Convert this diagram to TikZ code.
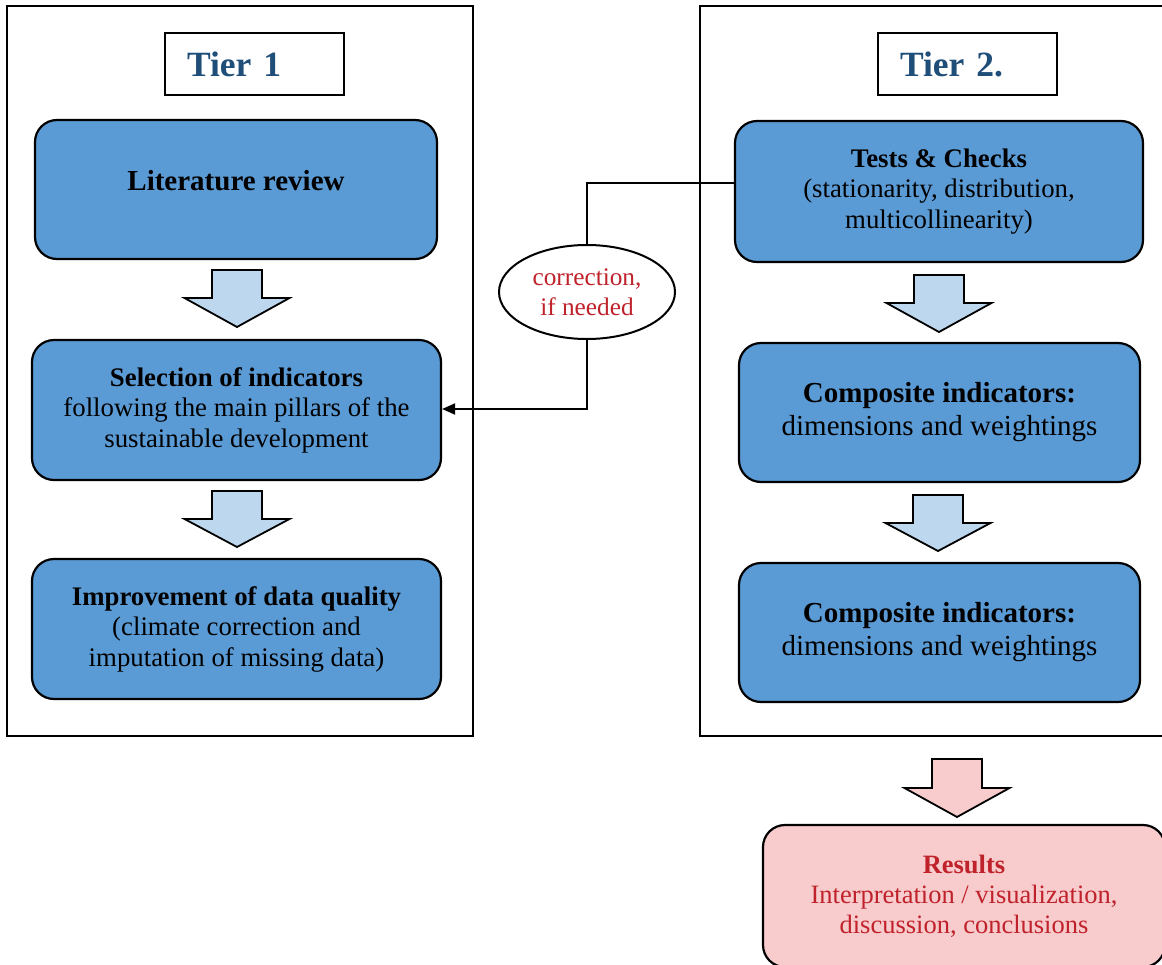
\documentclass[tikz,border=0pt]{standalone}
\usepackage{fontspec}
\setmainfont{Liberation Serif}
\usetikzlibrary{arrows.meta,shapes.geometric}
\definecolor{boxblue}{HTML}{5B9BD5}
\definecolor{arrblue}{HTML}{BDD7EE}
\definecolor{respink}{HTML}{F8CBCC}
\definecolor{resred}{HTML}{C0222B}
\definecolor{tierblue}{HTML}{1F4E79}
\tikzset{
  frame/.style={draw=black, line width=1.8pt, minimum width=466pt, minimum height=730pt, inner sep=0pt},
  tierbox/.style={draw=black, line width=1.8pt, minimum height=62pt, text width=135pt, inner xsep=22pt, align=left, font=\fontsize{35.5}{38}\selectfont\bfseries, text=tierblue},
  bluebox/.style={draw=black, line width=2.2pt, fill=boxblue, rounded corners=22pt, align=center, inner sep=0pt, font=\fontsize{26.8}{30.5}\selectfont},
  compbox/.style={bluebox, font=\fontsize{29}{33}\selectfont},
  resbox/.style={bluebox, fill=respink, text=resred, font=\fontsize{26.5}{30}\selectfont},
  corrnode/.style={draw=black, line width=2pt, ellipse, minimum width=176pt, minimum height=94pt, inner sep=0pt, align=center, text=resred, font=\fontsize{25.3}{30}\selectfont},
  conn/.style={draw=black, line width=2pt},
  blockarrow/.style={draw=black, line width=1.8pt, line join=miter}
}
% #1 x, #2 top, #3 head start, #4 tip, #5 fill
\newcommand{\blockarr}[5]{%
  \draw[blockarrow, fill=#5] (#1-25,#2) -- (#1+25,#2) -- (#1+25,#3) -- (#1+52.5,#3) -- (#1,#4) -- (#1-52.5,#3) -- (#1-25,#3) -- cycle;}
\begin{document}
\begin{tikzpicture}[x=1pt,y=-1pt]
\useasboundingbox (0,0) rectangle (1162,964);
\clip (0,0) rectangle (1162,964);
\fill[white] (0,0) rectangle (1162,964);
% frames
\node[frame] (f1) at (240,371) {};
\node[frame, minimum width=480pt] (f2) at (940,371) {};
% tier labels
\node[tierbox] (t1) at (254.5,64) {Tier 1};
\node[tierbox] (t2) at (967.5,64) {Tier 2.};
% Tier 1 boxes
\node[bluebox, minimum width=402pt, minimum height=139pt] (lit) at (236,189.5) {};
\node[font=\fontsize{29}{32}\selectfont\bfseries] (littext) at (236,181) {Literature review};
\node[bluebox, minimum width=409pt, minimum height=140pt] (sel) at (236.5,410)
  {\textbf{Selection of indicators}\\following the main pillars of the\\sustainable development};
\node[bluebox, minimum width=409pt, minimum height=140pt] (imp) at (236.5,629)
  {\textbf{Improvement of data quality}\\(climate correction and\\imputation of missing data)};
% Tier 2 boxes
\node[bluebox, minimum width=408pt, minimum height=141pt] (tests) at (939,191.5)
  {\textbf{Tests \& Checks}\\(stationarity, distribution,\\multicollinearity)};
\node[compbox, minimum width=401pt, minimum height=139pt] (comp1) at (939.5,412.5)
  {\textbf{Composite indicators:}\\dimensions and weightings};
\node[compbox, minimum width=401pt, minimum height=139pt] (comp2) at (939.5,632.5)
  {\textbf{Composite indicators:}\\dimensions and weightings};
% results
\node[resbox, minimum width=402pt, minimum height=142pt] (res) at (964,896)
  {\textbf{Results}\\Interpretation / visualization,\\discussion, conclusions};
% correction ellipse
\node[corrnode] (corr) at (587,292) {correction,\\if needed};
% connectors
\draw[conn] ([yshift=8.5pt]tests.west) -| (corr.north);
\draw[conn, -{Triangle[length=13pt,width=11pt]}] (corr.south) |- ([yshift=1pt]sel.east);
% block arrows
\blockarr{237}{270}{298}{327}{arrblue}
\blockarr{237}{491}{519}{547}{arrblue}
\blockarr{939}{275}{303}{332}{arrblue}
\blockarr{938}{495}{523}{551}{arrblue}
\blockarr{957}{759}{788}{817}{respink}
\end{tikzpicture}
\end{document}
